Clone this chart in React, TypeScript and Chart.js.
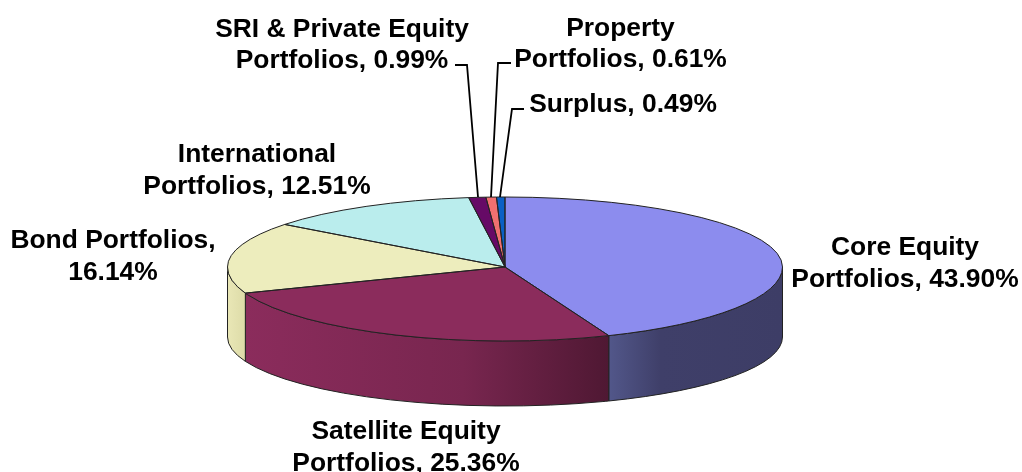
import React, { useEffect, useRef } from "react";
import { Chart, registerables } from "chart.js";

Chart.register(...registerables);

const categories = [
  "Core Equity Portfolios",
  "Satellite Equity Portfolios",
  "Bond Portfolios",
  "International Portfolios",
  "SRI & Private Equity Portfolios",
  "Property Portfolios",
  "Surplus",
];
const shares = [43.9, 25.36, 16.14, 12.51, 0.99, 0.61, 0.49];
const sliceColors = ["#8C8CEE", "#8B2C5C", "#EDEDBD", "#BAEDED", "#660A66", "#F07070", "#0A60C4"];

const labelLines = [
  ["Core Equity", "Portfolios, 43.90%"],
  ["Satellite Equity", "Portfolios, 25.36%"],
  ["Bond Portfolios,", "16.14%"],
  ["International", "Portfolios, 12.51%"],
  ["SRI & Private Equity", "Portfolios, 0.99%"],
  ["Property", "Portfolios, 0.61%"],
  ["Surplus, 0.49%"],
];

// layout (pixels)
const RADIUS_X = 277.5;
const BACK_RY = 70;
const FRONT_RY = 74;
const BOTTOM_RY = 69;
const DEPTH = 70;
const FONT = 'bold 26.4px "Liberation Sans", Arial, sans-serif';
const LINE_H = 31.5;
const labelPos = [
  { x: 905, y: 255 },
  { x: 406, y: 439 },
  { x: 113, y: 248 },
  { x: 257, y: 162 },
  { x: 342, y: 36.5 },
  { x: 620.5, y: 35.5 },
  { x: 623, y: 111.5 },
];
const leaders: number[][][] = [
  [],
  [],
  [],
  [],
  [[455, 65], [467, 65], [478, 197]],
  [[511, 63], [498, 63], [491, 197]],
  [[524, 109], [512, 109], [500, 197]],
];
const wallStops: [number, string][][] = [
  [[0, "#3D3D66"], [0.7, "#3F3F69"], [1, "#52578A"]],
  [[0, "#4F1833"], [0.4, "#78264F"], [1, "#8B2C5C"]],
  [[0, "#DDDBA8"], [1, "#E9E7B6"]],
];

const ry = (a: number) => (Math.sin(a) > 0 ? FRONT_RY : BACK_RY);

function tracePie(ctx: any, x: number, y: number, a1: number, a2: number) {
  // front half and back half of the disc use different vertical radii
  const cuts = [a1];
  [-Math.PI, 0, Math.PI].forEach((c) => {
    if (c > a1 && c < a2) cuts.push(c);
  });
  cuts.push(a2);
  for (let i = 0; i < cuts.length - 1; i++) {
    const mid = (cuts[i] + cuts[i + 1]) / 2;
    ctx.ellipse(x, y, RADIUS_X, ry(mid), 0, cuts[i], cuts[i + 1]);
  }
}

const pie3d = {
  id: "pie3d",
  beforeDatasetsDraw(chart: any) {
    const ctx = chart.ctx;
    const arcs = chart.getDatasetMeta(0).data;
    arcs.forEach((arc: any, i: number) => {
      const { x, y, startAngle, endAngle } = arc.getProps(["x", "y", "startAngle", "endAngle"]);
      const a1 = Math.max(startAngle, 0);
      const a2 = Math.min(endAngle, Math.PI);
      if (a2 > a1 && wallStops[i]) {
        const g = ctx.createLinearGradient(x + RADIUS_X * Math.cos(a1), 0, x + RADIUS_X * Math.cos(a2), 0);
        wallStops[i].forEach(([p, c]) => g.addColorStop(p, c));
        ctx.beginPath();
        ctx.ellipse(x, y, RADIUS_X, FRONT_RY, 0, a1, a2);
        ctx.ellipse(x, y + DEPTH, RADIUS_X, BOTTOM_RY, 0, a2, a1, true);
        ctx.closePath();
        ctx.fillStyle = g;
        ctx.fill();
        ctx.strokeStyle = "#222";
        ctx.lineWidth = 1;
        ctx.stroke();
      }
    });
    // back half of the disc
    const { x, y } = arcs[0];
    ctx.save();
    ctx.beginPath();
    ctx.rect(0, 0, chart.width, y);
    ctx.clip();
    ctx.translate(x, y);
    ctx.scale(1, BACK_RY / RADIUS_X);
    ctx.translate(-x, -y);
  },
  afterDatasetsDraw(chart: any) {
    const ctx = chart.ctx;
    ctx.restore();
    const meta = chart.getDatasetMeta(0);
    const arcs = meta.data;
    // front half of the disc
    const { x: cx, y: cy } = arcs[0];
    ctx.save();
    ctx.beginPath();
    ctx.rect(0, cy, chart.width, chart.height - cy);
    ctx.clip();
    ctx.translate(cx, cy);
    ctx.scale(1, FRONT_RY / RADIUS_X);
    ctx.translate(-cx, -cy);
    meta.controller.draw();
    ctx.restore();

    ctx.strokeStyle = "#222";
    ctx.lineWidth = 1;
    arcs.forEach((arc: any) => {
      const { x, y, startAngle, endAngle } = arc.getProps(["x", "y", "startAngle", "endAngle"]);
      ctx.beginPath();
      ctx.moveTo(x, y);
      tracePie(ctx, x, y, startAngle, endAngle);
      ctx.closePath();
      ctx.stroke();
    });
    ctx.fillStyle = "#000";
    ctx.font = FONT;
    ctx.textAlign = "center";
    ctx.textBaseline = "alphabetic";
    labelLines.forEach((lines, i) => {
      lines.forEach((t, j) => ctx.fillText(t, labelPos[i].x, labelPos[i].y + j * LINE_H));
    });
    ctx.strokeStyle = "#000";
    ctx.lineWidth = 1.8;
    leaders.forEach((pts) => {
      if (!pts.length) return;
      ctx.beginPath();
      pts.forEach(([px, py], k) => (k ? ctx.lineTo(px, py) : ctx.moveTo(px, py)));
      ctx.stroke();
    });
  },
};

export default function App() {
  const ref = useRef<HTMLCanvasElement>(null);
  useEffect(() => {
    const chart = new Chart(ref.current!, {
      type: "pie",
      data: {
        labels: categories,
        datasets: [{ data: shares, backgroundColor: sliceColors, borderWidth: 0, hoverOffset: 0 }],
      },
      options: {
        responsive: false,
        animation: false,
        events: [],
        radius: RADIUS_X,
        layout: { padding: { left: 0, right: 12, top: 62, bottom: 0 } },
        plugins: { legend: { display: false }, tooltip: { enabled: false } },
      } as any,
      plugins: [pie3d],
    });
    return () => chart.destroy();
  }, []);
  return (
    <div style={{ position: "absolute", left: 0, top: 0, width: 1022, height: 472, background: "#fff" }}>
      <canvas ref={ref} width={1022} height={472} style={{ display: "block" }} />
    </div>
  );
}
